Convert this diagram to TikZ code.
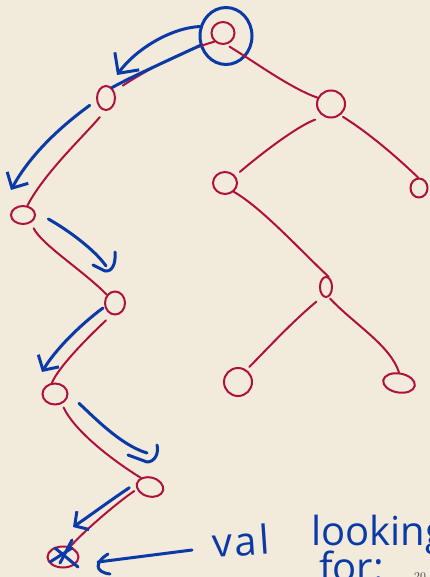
\documentclass[tikz,border=0pt]{standalone}
\usepackage{fontspec}
\newfontfamily\handfont{Open Sans}
\usetikzlibrary{shapes.geometric,arrows.meta}
\definecolor{bg}{HTML}{F2EADA}
\definecolor{inkred}{HTML}{B0103C}
\definecolor{inkblue}{HTML}{0A3AA8}
\begin{document}
\begin{tikzpicture}[x=1pt,y=-1pt,
  tnode/.style={ellipse, draw=inkred, line width=2pt, inner sep=0pt},
  ringnode/.style={ellipse, draw=inkblue, line width=3pt, inner sep=0pt},
  redline/.style={draw=inkred, line width=2pt, line cap=round},
  blueline/.style={draw=inkblue, line width=3pt, line cap=round, line join=round},
  handtext/.style={font=\handfont\fontsize{40}{40}\selectfont, text=inkblue, anchor=base west, inner sep=0pt}]
\fill[bg] (0,0) rectangle (430,577);
\useasboundingbox (0,0) rectangle (430,577);
\clip (0,0) rectangle (430,577);
% nodes
\node[tnode, minimum width=23pt, minimum height=22pt] (root) at (223,33) {};
\node[ringnode, minimum width=52pt, minimum height=57pt] (ring) at (226,36) {};
\node[tnode, minimum width=18pt, minimum height=24pt] (l1) at (106,98) {};
\node[tnode, minimum width=28pt, minimum height=27pt] (r1) at (331,104) {};
\node[tnode, minimum width=24pt, minimum height=18pt] (l2) at (23,215) {};
\node[tnode, minimum width=24pt, minimum height=22pt] (rl) at (225,183) {};
\node[tnode, minimum width=17pt, minimum height=19pt] (rr) at (419,188) {};
\node[tnode, minimum width=20pt, minimum height=23pt] (l3) at (115,303) {};
\node[tnode, minimum width=12pt, minimum height=20pt] (rlr) at (326,287) {};
\node[tnode, minimum width=25pt, minimum height=21pt] (l4) at (55,394) {};
\node[tnode, minimum width=28pt, minimum height=28pt] (rlrl) at (238,382) {};
\node[tnode, minimum width=32pt, minimum height=19pt, rotate=-10] (rlrr) at (399,383) {};
\node[tnode, minimum width=27pt, minimum height=19pt, rotate=-15] (l5) at (150,487) {};
\node[tnode, minimum width=31pt, minimum height=21pt] (xn) at (63,557) {};
% red edges
\draw[redline, shorten >=10pt] (root.225) .. controls (185,50) and (150,68) .. (l1.40);
\draw[redline, shorten <=4pt] (root.-75) .. controls (255,62) and (290,88) .. (r1.155);
\draw[redline, shorten <=8pt] (l1.265) .. controls (85,135) and (45,172) .. (l2.65);
\draw[redline, shorten <=9pt, shorten >=6pt] (r1.240) .. controls (300,125) and (268,148) .. (rl.35);
\draw[redline, shorten <=3pt] (r1.-50) .. controls (372,135) and (402,162) .. (rr.95);
\draw[redline] (rl.-45) .. controls (262,208) and (300,250) .. (rlr.75);
\draw[redline, shorten <=8pt, shorten >=4pt] (rlr.250) .. controls (292,322) and (268,348) .. (rlrl.55);
\draw[redline, shorten <=2pt] (rlr.-75) .. controls (355,325) and (390,345) .. (rlrr.100);
\draw[redline, shorten <=6pt] (l2.-45) .. controls (42,245) and (85,272) .. (l3.135);
\draw[redline, shorten <=8pt] (l3.255) .. controls (85,340) and (58,368) .. (l4.105);
\draw[redline, shorten <=4pt] (l4.-55) .. controls (75,432) and (115,462) .. (l5.150);
\draw[redline, shorten <=3pt] (l5.205) .. controls (118,502) and (85,530) .. (xn.55);
% blue traversal arrows
\coordinate (a1e) at (117,75);
\coordinate (a2e) at (11,190);
\coordinate (a3e) at (106,266);
\coordinate (a4e) at (42,372);
\coordinate (a5e) at (147,453);
\coordinate (a6e) at (73,527);
\coordinate (a7s) at (192,550);
\coordinate (a7e) at (98,562);
\draw[blueline, -{Straight Barb[length=15pt,width=30pt]}] (ring.160) .. controls (170,28) and (135,50) .. (a1e);
\draw[blueline] (ring.200) .. controls (165,62) and (135,75) .. (l1.60);
\draw[blueline, shorten <=8pt, -{Straight Barb[length=12pt,width=24pt]}] (l1.195) .. controls (60,127) and (30,155) .. (a2e);
\draw[blueline, shorten <=15pt] (l2.15) .. controls (68,230) and (95,250) .. (a3e);
\draw[blueline] ([shift={(9,-14)}]a3e) .. controls ([shift={(10,-2)}]a3e) and ([shift={(6,6)}]a3e) .. ([shift={(-1,5)}]a3e) -- ([shift={(-13,-1)}]a3e);
\draw[blueline, shorten <=2pt, -{Straight Barb[length=11pt,width=24pt]}] (l3.200) .. controls (80,325) and (55,350) .. (a4e);
\draw[blueline, shorten <=14pt] (l4.0) .. controls (92,415) and (120,445) .. (a5e);
\draw[blueline] ([shift={(10,-8)}]a5e) .. controls ([shift={(12,0)}]a5e) and ([shift={(8,9)}]a5e) .. ([shift={(0,9)}]a5e) -- ([shift={(-19,2)}]a5e);
\draw[blueline, shorten <=8pt, -{Straight Barb[length=10pt,width=22pt]}] (l5.180) .. controls (108,502) and (88,517) .. (a6e);
% the found value
\draw[blueline] ([shift={(9,-17)}]xn.center) -- ([shift={(-3,6)}]xn.center);
\draw[blueline] ([shift={(-8,-9)}]xn.center) -- ([shift={(15,10)}]xn.center);
\draw[blueline] ([shift={(-13,5)}]xn.center) -- ([shift={(9,-9)}]xn.center);
\draw[blueline] (a7s) -- (a7e);
\draw[blueline] ([shift={(10,-8)}]a7e) .. controls ([shift={(-3,0)}]a7e) and ([shift={(-4,10)}]a7e) .. ([shift={(12,12)}]a7e);
% label
\node[handtext, rotate=4] (val) at (213,558) {v\kern2pt a\kern3pt l};
\node[handtext] (look) at (311,545) {looking};
\node[handtext] (for) at (319,581) {for:};
\node[font=\fontsize{12}{12}\selectfont, text=black!75, anchor=base west, inner sep=0pt] (pg) at (414,580) {20};
\end{tikzpicture}
\end{document}
